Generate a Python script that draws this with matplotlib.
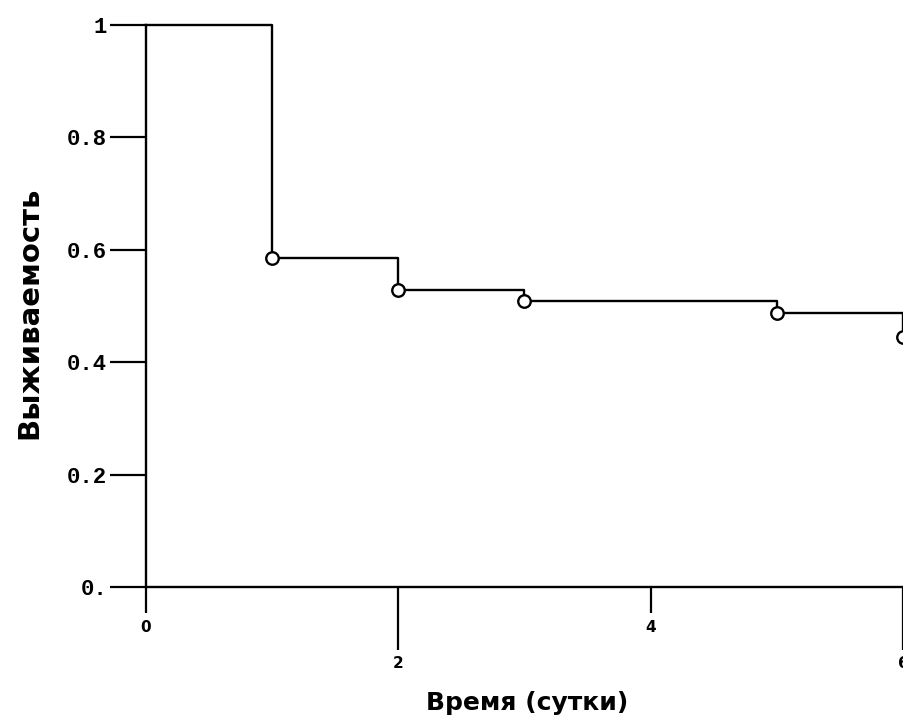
import matplotlib
matplotlib.use("Agg")
import matplotlib.pyplot as plt

# survival curve (Kaplan-Meier steps)
times = [0, 1, 2, 3, 5, 6]
survival = [1.0, 0.585, 0.528, 0.509, 0.487, 0.445]

y_ticks = [0, 0.2, 0.4, 0.6, 0.8, 1.0]
y_tick_labels = ["0.", "0.2", "0.4", "0.6", "0.8", "1"]
x_ticks_high = [0, 4]
x_ticks_low = [2, 6]

fig = plt.figure(figsize=(9.04, 7.21), dpi=100)
ax = fig.add_axes([146 / 904, 134 / 721, 757 / 904, 562 / 721])

ax.step(times, survival, where="post", color="black", lw=1.7, clip_on=False)
ax.plot(times[1:], survival[1:], "o", ms=9, mfc="white", mec="black",
        mew=1.7, clip_on=False)

ax.set_xlim(0, 6)
ax.set_ylim(0, 1)

for s in ["top", "right"]:
    ax.spines[s].set_visible(False)
for s in ["left", "bottom"]:
    ax.spines[s].set_linewidth(1.7)

ax.set_yticks(y_ticks)
ax.set_yticklabels(y_tick_labels, family="Liberation Mono", fontsize=16,
                   fontweight="bold")
ax.tick_params(axis="y", direction="out", length=26, width=1.6, pad=2)

# staggered x ticks: short ones as major, long ones as minor
ax.set_xticks(x_ticks_high)
ax.set_xticklabels([str(v) for v in x_ticks_high], fontsize=11,
                   fontweight="bold", family="DejaVu Sans")
ax.set_xticks(x_ticks_low, labels=[str(v) for v in x_ticks_low], minor=True)
for lab in ax.get_xticklabels(minor=True):
    lab.set_fontsize(11)
    lab.set_fontweight("bold")
    lab.set_family("DejaVu Sans")
ax.tick_params(axis="x", which="major", direction="out", length=19, width=1.6, pad=5)
ax.tick_params(axis="x", which="minor", direction="out", length=45, width=1.6, pad=5)

fig.text(29 / 904, 1 - 313 / 721, "Выживаемость", rotation=90, ha="center",
         va="center", fontsize=21, fontweight="bold", family="DejaVu Sans")
fig.text(527 / 904, 1 - 703 / 721, "Время (сутки)", ha="center", va="center",
         fontsize=18, fontweight="bold", family="DejaVu Sans")

fig.savefig("out.png", dpi=100)
